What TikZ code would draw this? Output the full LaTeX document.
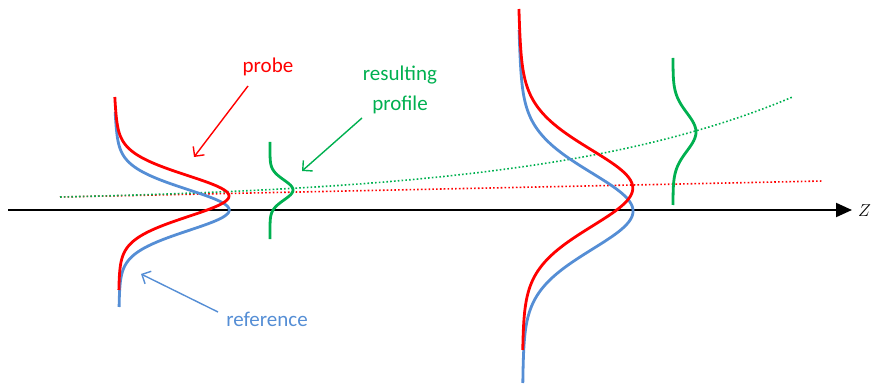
\documentclass[tikz,border=0pt]{standalone}
\usepackage{fontspec}
\setmainfont{Carlito}
\usetikzlibrary{arrows.meta}
\definecolor{pred}{RGB}{255,0,0}
\definecolor{pblue}{RGB}{85,142,213}
\definecolor{pgreen}{RGB}{0,176,80}
\newcommand\profv[2]{(0.75*exp(-0.5*((#1)/(#2))*((#1)/(#2)))+0.25/(1+((#1)/(#2))*((#1)/(#2))/1.385))}
\newcommand\gaussv[2]{exp(-0.5*((#1)/(#2))*((#1)/(#2)))}
\begin{document}
\begin{tikzpicture}[x=1pt,y=-1pt,
  prof/.style={line width=2.8pt},
  dots/.style={line width=1.6pt, dash pattern=on 1.6pt off 2.2pt},
  callout/.style={line width=1.4pt, -{Straight Barb[length=7pt,width=14pt]}},
  lbl/.style={font=\fontsize{21}{30}\selectfont, inner sep=0pt, align=center}]
\useasboundingbox (0,0) rectangle (873,385);
% dotted trend lines
\draw[dots,pred] (60,197) -- (823,181);
\draw[dots,pgreen] plot[domain=60:792,samples=150] (\x,{197-5.65*(exp(0.004*(\x-60))-1)});
% axis
\coordinate (zs) at (8,210);
\coordinate (ze) at (852,210);
\draw[line width=2pt, -{Triangle[length=16pt,width=14pt]}] (zs) -- (ze);
\node[anchor=west, inner sep=0pt, font=\fontsize{19}{22}\selectfont] (zlab) at (858,211) {$Z$};
% left profiles
\draw[prof,pblue] plot[domain=112:307,samples=160,variable=\t] ({113+0.02*(\t-97)+114*\profv{\t-210}{22}},\t);
\draw[prof,pred] plot[domain=97:290,samples=160,variable=\t] ({113+0.02*(\t-97)+114*\profv{\t-196}{22}},\t);
% right profiles
\draw[prof,pblue] plot[domain=30:383,samples=200,variable=\t] ({517+0.01*(\t-9)+114*\profv{\t-211}{41}},\t);
\draw[prof,pred] plot[domain=9:350,samples=200,variable=\t] ({517+0.01*(\t-9)+114*\profv{\t-188}{41}},\t);
% green resulting profiles
\draw[prof,pgreen] plot[domain=142:239,samples=100,variable=\t] ({270+23*\gaussv{\t-190}{10}},\t);
\draw[prof,pgreen] plot[domain=58:205,samples=120,variable=\t] ({673+23*\gaussv{\t-132}{19}},\t);
% labels
\node[lbl,text=pred] (probe) at (268,67) {probe};
\node[lbl,text=pgreen] (result) at (400,90) {resulting\\profile};
\node[lbl,text=pblue] (ref) at (267,319) {reference};
% callout arrows
\coordinate (probeTail) at (248,86);
\coordinate (probeTip) at (194,157);
\coordinate (resTail) at (362,118);
\coordinate (resTip) at (302,171);
\coordinate (refTail) at (218,312);
\coordinate (refTip) at (141,274);
\draw[callout,pred] (probeTail) -- (probeTip);
\draw[callout,pgreen] (resTail) -- (resTip);
\draw[callout,pblue] (refTail) -- (refTip);
\end{tikzpicture}
\end{document}
